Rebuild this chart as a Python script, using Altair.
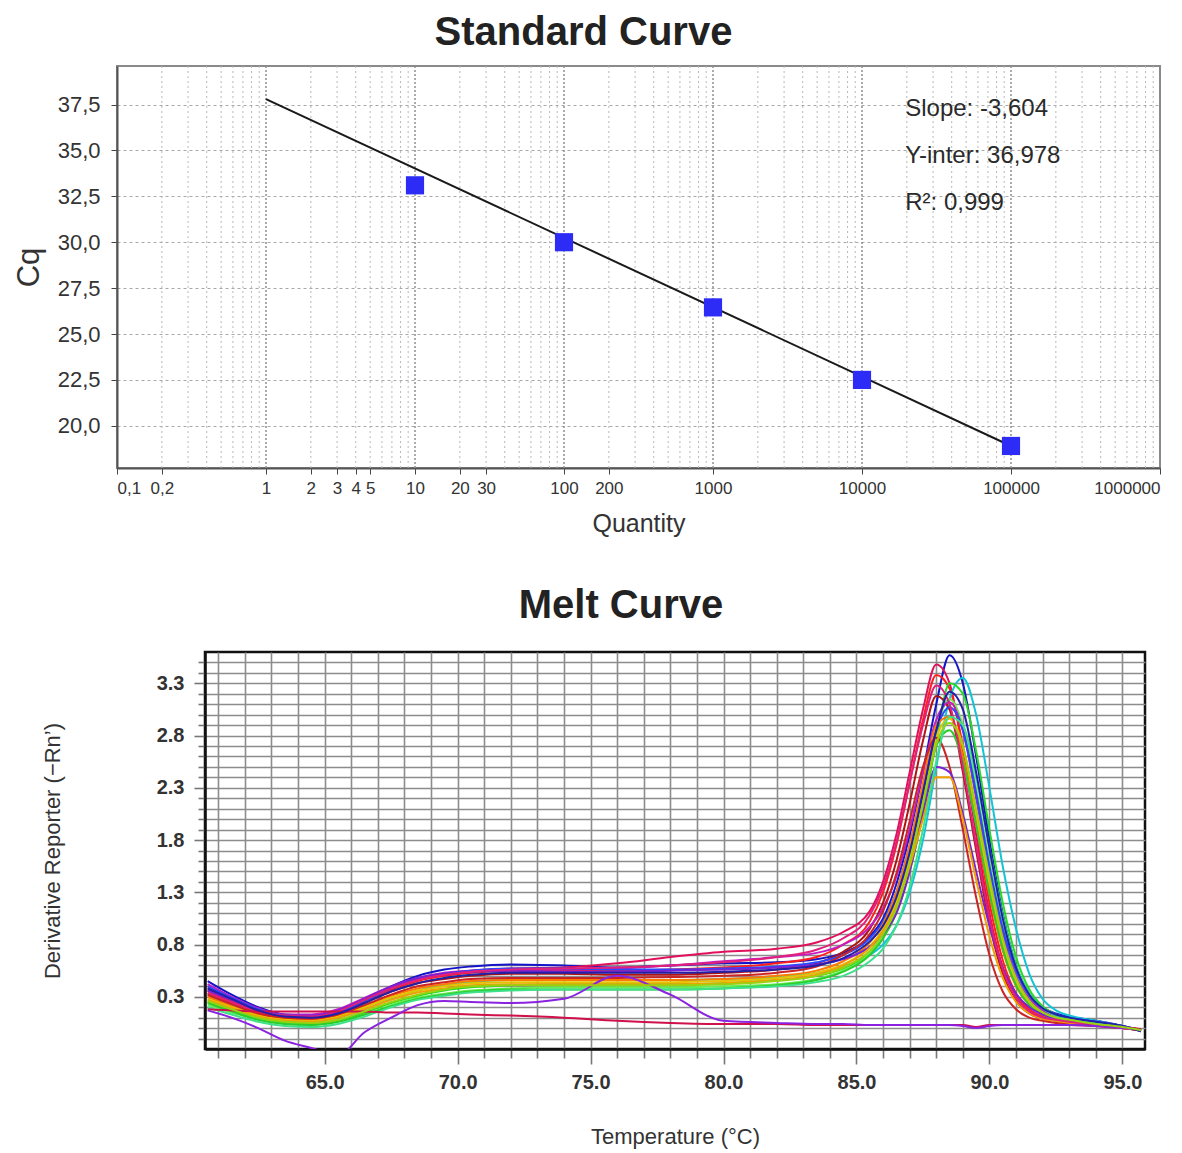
import altair as alt
import pandas as pd

# ---------------- Standard curve data ----------------
QUANTITY = [10, 100, 1000, 10000, 100000]
CQ = [33.1, 30.0, 26.45, 22.5, 18.9]
FIT_QUANTITY = [1, 100000]
FIT_CQ = [37.8, 18.9]
X_LABEL_VALUES = [0.1, 0.2, 1, 2, 3, 4, 5, 10, 20, 30, 100, 200, 1000, 10000, 100000, 1000000]
X_GRID_MINOR = [0.2, 0.3, 0.4, 0.5, 0.6, 0.7, 0.8, 0.9,
                2, 3, 4, 5, 6, 7, 8, 9,
                20, 30, 40, 50, 60, 70, 80, 90,
                200, 300, 400, 500, 600, 700, 800, 900,
                2000, 3000, 4000, 5000, 6000, 7000, 8000, 9000,
                20000, 30000, 40000, 50000, 60000, 70000, 80000, 90000,
                200000, 300000, 400000, 500000, 600000, 700000, 800000, 900000]
X_GRID_MAJOR = [1, 10, 100, 1000, 10000, 100000]
Y_TICKS = [20.0, 22.5, 25.0, 27.5, 30.0, 32.5, 35.0, 37.5]
ANNOT_TEXT = ["Slope: -3,604", "Y-inter: 36,978", "R²: 0,999"]
ANNOT_Q = [19500, 19500, 19500]
ANNOT_CQ = [37.25, 34.7, 32.15]

# ---------------- Melt curve data ----------------
TEMPS = [60.6, 61.5, 62.5, 63.5, 64.5, 65.5, 66.5, 67.5, 68.5, 69.5,
         70.5, 72, 74, 76, 78, 80, 82, 83.5, 84.5, 85.5,
         86, 86.5, 87, 87.5, 88, 88.5, 89, 89.5, 90, 90.5,
         91, 91.5, 92, 92.5, 93, 94, 95, 95.7]

S01 = [0.45, 0.32, 0.20, 0.13, 0.12, 0.16, 0.27, 0.40, 0.50, 0.56,
       0.59, 0.61, 0.60, 0.58, 0.60, 0.62, 0.63, 0.66, 0.72, 0.88,
       1.05, 1.38, 1.85, 2.45, 3.10, 3.57, 3.30, 2.60, 1.80, 1.10,
       0.60, 0.33, 0.20, 0.14, 0.11, 0.07, 0.02, -0.03]
S02 = [0.38, 0.28, 0.17, 0.12, 0.12, 0.17, 0.28, 0.39, 0.47, 0.52,
       0.55, 0.57, 0.58, 0.62, 0.68, 0.73, 0.76, 0.82, 0.92, 1.12,
       1.40, 1.85, 2.45, 3.05, 3.48, 3.30, 2.65, 1.85, 1.10, 0.58,
       0.30, 0.17, 0.11, 0.08, 0.06, 0.03, 0.00, -0.02]
S03 = [0.33, 0.24, 0.15, 0.11, 0.10, 0.15, 0.26, 0.37, 0.45, 0.50,
       0.53, 0.55, 0.55, 0.55, 0.56, 0.58, 0.62, 0.68, 0.80, 1.02,
       1.30, 1.75, 2.35, 2.95, 3.38, 3.25, 2.70, 1.95, 1.20, 0.65,
       0.33, 0.18, 0.11, 0.08, 0.06, 0.03, 0.00, -0.02]
S04 = [0.30, 0.22, 0.13, 0.08, 0.07, 0.10, 0.18, 0.28, 0.36, 0.41,
       0.44, 0.46, 0.46, 0.46, 0.46, 0.47, 0.49, 0.53, 0.59, 0.70,
       0.80, 0.98, 1.30, 1.80, 2.50, 3.15, 3.35, 3.00, 2.30, 1.55,
       0.95, 0.52, 0.28, 0.17, 0.12, 0.07, 0.02, -0.02]
S05 = [0.25, 0.17, 0.09, 0.05, 0.04, 0.07, 0.15, 0.24, 0.31, 0.36,
       0.39, 0.41, 0.42, 0.42, 0.42, 0.43, 0.46, 0.50, 0.57, 0.72,
       0.86, 1.10, 1.50, 2.05, 2.75, 3.30, 3.20, 2.65, 1.90, 1.20,
       0.68, 0.37, 0.21, 0.13, 0.09, 0.05, 0.01, -0.02]
S06 = [0.36, 0.26, 0.16, 0.11, 0.10, 0.14, 0.24, 0.35, 0.43, 0.47,
       0.50, 0.52, 0.52, 0.51, 0.51, 0.53, 0.56, 0.62, 0.73, 0.95,
       1.20, 1.60, 2.15, 2.75, 3.18, 3.05, 2.45, 1.70, 1.00, 0.52,
       0.26, 0.14, 0.09, 0.07, 0.05, 0.03, 0.00, -0.02]
S07 = [0.22, 0.15, 0.08, 0.04, 0.03, 0.06, 0.13, 0.22, 0.29, 0.33,
       0.36, 0.38, 0.39, 0.39, 0.39, 0.40, 0.42, 0.47, 0.55, 0.72,
       0.90, 1.18, 1.60, 2.20, 2.85, 3.15, 2.90, 2.30, 1.60, 0.98,
       0.55, 0.30, 0.17, 0.11, 0.08, 0.05, 0.01, -0.02]
S08 = [0.42, 0.30, 0.19, 0.13, 0.13, 0.18, 0.29, 0.40, 0.48, 0.53,
       0.55, 0.56, 0.56, 0.57, 0.60, 0.64, 0.68, 0.72, 0.80, 0.97,
       1.15, 1.45, 1.90, 2.45, 2.95, 3.12, 2.85, 2.20, 1.50, 0.90,
       0.50, 0.28, 0.17, 0.12, 0.09, 0.06, 0.02, -0.02]
S09 = [0.40, 0.29, 0.18, 0.12, 0.11, 0.15, 0.26, 0.38, 0.47, 0.52,
       0.55, 0.57, 0.57, 0.56, 0.56, 0.57, 0.59, 0.63, 0.70, 0.86,
       1.02, 1.30, 1.75, 2.30, 2.85, 3.07, 2.85, 2.25, 1.55, 0.95,
       0.55, 0.31, 0.19, 0.13, 0.10, 0.06, 0.02, -0.02]
S10 = [0.30, 0.21, 0.13, 0.09, 0.08, 0.12, 0.21, 0.31, 0.38, 0.42,
       0.45, 0.46, 0.46, 0.46, 0.46, 0.47, 0.50, 0.55, 0.64, 0.82,
       1.00, 1.30, 1.75, 2.35, 2.90, 2.98, 2.60, 1.95, 1.28, 0.74,
       0.40, 0.22, 0.13, 0.09, 0.07, 0.04, 0.01, -0.02]
S11 = [0.28, 0.20, 0.12, 0.08, 0.07, 0.11, 0.20, 0.29, 0.36, 0.40,
       0.43, 0.44, 0.44, 0.44, 0.44, 0.45, 0.48, 0.53, 0.61, 0.78,
       0.95, 1.22, 1.65, 2.20, 2.78, 2.96, 2.70, 2.05, 1.38, 0.80,
       0.44, 0.24, 0.14, 0.10, 0.07, 0.04, 0.01, -0.02]
S12 = [0.24, 0.16, 0.08, 0.04, 0.03, 0.06, 0.13, 0.21, 0.28, 0.32,
       0.35, 0.37, 0.37, 0.37, 0.37, 0.38, 0.41, 0.46, 0.54, 0.70,
       0.86, 1.12, 1.55, 2.10, 2.70, 2.85, 2.55, 1.95, 1.30, 0.76,
       0.41, 0.22, 0.13, 0.09, 0.07, 0.04, 0.01, -0.02]
S13 = [0.32, 0.23, 0.14, 0.10, 0.09, 0.13, 0.22, 0.32, 0.40, 0.44,
       0.47, 0.48, 0.48, 0.48, 0.49, 0.50, 0.53, 0.59, 0.70, 0.90,
       1.12, 1.48, 1.98, 2.50, 2.78, 2.50, 1.90, 1.25, 0.70, 0.35,
       0.18, 0.10, 0.07, 0.05, 0.04, 0.02, 0.00, -0.02]
S14 = [0.36, 0.27, 0.17, 0.12, 0.12, 0.17, 0.28, 0.40, 0.48, 0.52,
       0.54, 0.55, 0.54, 0.54, 0.55, 0.56, 0.58, 0.61, 0.66, 0.78,
       0.90, 1.10, 1.50, 2.05, 2.50, 2.45, 2.05, 1.50, 0.98, 0.58,
       0.33, 0.20, 0.13, 0.09, 0.07, 0.04, 0.01, -0.02]
S15 = [0.27, 0.19, 0.11, 0.07, 0.06, 0.10, 0.18, 0.27, 0.34, 0.38,
       0.41, 0.42, 0.42, 0.42, 0.42, 0.43, 0.46, 0.51, 0.60, 0.77,
       0.93, 1.17, 1.55, 2.00, 2.40, 2.40, 2.00, 1.42, 0.88, 0.48,
       0.25, 0.14, 0.09, 0.07, 0.05, 0.03, 0.00, -0.02]
S16 = [0.34, 0.25, 0.16, 0.12, 0.11, 0.16, 0.27, 0.38, 0.46, 0.51,
       0.54, 0.56, 0.57, 0.58, 0.60, 0.63, 0.68, 0.75, 0.86, 1.08,
       1.35, 1.78, 2.35, 2.90, 3.28, 3.10, 2.50, 1.75, 1.05, 0.56,
       0.29, 0.16, 0.10, 0.08, 0.06, 0.03, 0.00, -0.02]
S17 = [0.20, 0.13, 0.06, 0.02, 0.01, 0.04, 0.11, 0.20, 0.27, 0.31,
       0.34, 0.36, 0.37, 0.37, 0.37, 0.38, 0.40, 0.44, 0.50, 0.64,
       0.76, 0.98, 1.35, 1.90, 2.55, 2.98, 2.90, 2.40, 1.72, 1.08,
       0.60, 0.33, 0.19, 0.12, 0.09, 0.05, 0.01, -0.02]
S18 = [0.18, 0.17, 0.16, 0.16, 0.16, 0.16, 0.16, 0.15, 0.15, 0.14,
       0.13, 0.12, 0.10, 0.07, 0.05, 0.04, 0.04, 0.03, 0.03, 0.03,
       0.03, 0.03, 0.03, 0.03, 0.03, 0.03, 0.03, 0.01, 0.03, 0.03,
       0.03, 0.03, 0.03, 0.03, 0.03, 0.02, 0.01, -0.01]
S19 = [0.17, 0.10, 0.00, -0.12, -0.19, -0.26, -0.04, 0.10, 0.22, 0.26,
       0.25, 0.24, 0.28, 0.50, 0.32, 0.07, 0.05, 0.04, 0.04, 0.03,
       0.03, 0.03, 0.03, 0.03, 0.03, 0.03, 0.02, 0.00, 0.02, 0.03,
       0.03, 0.03, 0.03, 0.03, 0.03, 0.02, 0.00, -0.02]
S20 = [0.38, 0.28, 0.17, 0.11, 0.10, 0.14, 0.24, 0.35, 0.43, 0.48,
       0.51, 0.53, 0.53, 0.53, 0.53, 0.54, 0.56, 0.60, 0.67, 0.83,
       0.98, 1.25, 1.68, 2.25, 2.85, 3.22, 3.05, 2.45, 1.72, 1.05,
       0.58, 0.32, 0.19, 0.13, 0.10, 0.06, 0.02, -0.03]
S21 = [0.26, 0.18, 0.10, 0.06, 0.05, 0.08, 0.16, 0.25, 0.32, 0.37,
       0.40, 0.41, 0.41, 0.41, 0.41, 0.42, 0.45, 0.50, 0.58, 0.74,
       0.90, 1.15, 1.58, 2.15, 2.72, 2.92, 2.70, 2.10, 1.45, 0.86,
       0.48, 0.26, 0.15, 0.10, 0.08, 0.04, 0.01, -0.02]

SERIES_VALUES = [S01, S02, S03, S04, S05, S06, S07, S08, S09, S10, S11,
                 S12, S13, S14, S15, S16, S17, S18, S19, S20, S21]
SERIES_NAMES = ["W%02d" % (i + 1) for i in range(len(SERIES_VALUES))]
SERIES_COLORS = ["#1414c8", "#e0105a", "#ff1e1e", "#12c4d6", "#22dd22", "#b01414",
                 "#66ee55", "#c21ec2", "#2a48ff", "#ff7a00", "#e6c200", "#2ccc2c",
                 "#cc2424", "#7a22d4", "#f0a000", "#e0207a", "#3ee08a", "#d0104a",
                 "#8a22e0", "#2020a8", "#9ad010"]

MELT_X_TICKS = list(range(61, 96))
MELT_Y_TICKS = [round(-0.1 + 0.1 * i, 1) for i in range(37)]
MELT_Y_LABELS = [0.3, 0.8, 1.3, 1.8, 2.3, 2.8, 3.3]

FONT = "Liberation Sans"
NARROW = "Liberation Sans Narrow, Liberation Sans"

# ---------------- Standard curve chart ----------------
xs = alt.Scale(type="log", domain=[0.1, 1000000], nice=False)
ys = alt.Scale(domain=[17.7, 39.6], nice=False, zero=False)

x_axis = alt.Axis(values=X_LABEL_VALUES, labelExpr="replace(toString(datum.value), '.', ',')",
                  grid=False, tickSize=6, tickColor="#444", domainColor="#555", domainWidth=2,
                  labelFont=NARROW, labelFontSize=17, labelColor="#333", labelPadding=6,
                  labelOverlap=False, title="Quantity", titleFont=FONT, titleFontSize=25,
                  titleFontWeight="normal", titleColor="#333", titlePadding=15)
y_axis = alt.Axis(values=Y_TICKS, labelExpr="replace(format(datum.value, '.1f'), '.', ',')",
                  grid=True, gridDash=[3, 3], gridColor="#a8a8a8", gridWidth=1,
                  tickSize=6, tickColor="#444", domainColor="#555", domainWidth=2,
                  labelFont=FONT, labelFontSize=22, labelColor="#333", labelPadding=11,
                  title="Cq", titleFont=FONT, titleFontSize=31, titleFontWeight="normal",
                  titleColor="#333", titlePadding=12)

grid_minor = alt.Chart(pd.DataFrame({"q": X_GRID_MINOR})).mark_rule(
    color="#b8b8b8", strokeDash=[2, 3], strokeWidth=1
).encode(x=alt.X("q:Q", scale=xs, axis=x_axis))
grid_major = alt.Chart(pd.DataFrame({"q": X_GRID_MAJOR})).mark_rule(
    color="#909090", strokeDash=[2, 2], strokeWidth=1.5
).encode(x=alt.X("q:Q", scale=xs))

fit = alt.Chart(pd.DataFrame({"q": FIT_QUANTITY, "cq": FIT_CQ})).mark_line(
    color="#1a1a1a", strokeWidth=2
).encode(x=alt.X("q:Q", scale=xs), y=alt.Y("cq:Q", scale=ys, axis=y_axis))

pts = alt.Chart(pd.DataFrame({"q": QUANTITY, "cq": CQ})).mark_square(
    size=330, color="#2c2cf6", opacity=1
).encode(x=alt.X("q:Q", scale=xs), y=alt.Y("cq:Q", scale=ys))

annot = alt.Chart(pd.DataFrame({"q": ANNOT_Q, "cq": ANNOT_CQ, "t": ANNOT_TEXT})).mark_text(
    align="left", baseline="middle", font=NARROW, fontSize=24, color="#2a2a2a"
).encode(x=alt.X("q:Q", scale=xs), y=alt.Y("cq:Q", scale=ys), text="t:N")

top = alt.layer(grid_minor, grid_major, fit, pts, annot).properties(
    width=1043, height=402,
    title=alt.TitleParams("Standard Curve", font=FONT, fontSize=40, fontWeight="bold",
                          color="#222", anchor="middle", offset=12, dx=-55),
    view=alt.ViewBackground(stroke="#8a8a8a", strokeWidth=2, strokeOpacity=1),
)

# ---------------- Melt curve chart ----------------
rows = []
for name, vals in zip(SERIES_NAMES, SERIES_VALUES):
    assert len(vals) == len(TEMPS)
    for t, v in zip(TEMPS, vals):
        rows.append({"series": name, "temp": t, "val": v})
melt_df = pd.DataFrame(rows)

mx_axis = alt.Axis(values=MELT_X_TICKS,
                   labelExpr="datum.value % 5 === 0 ? format(datum.value, '.1f') : ''",
                   grid=True, gridColor="#8c8c8c", gridWidth=1.6,
                   tickSize={"condition": {"test": "datum.value % 5 === 0", "value": 15}, "value": 9},
                   tickColor="#777", tickWidth=1.6, domainColor="#111", domainWidth=2.5,
                   labelFont=FONT, labelFontSize=20, labelFontWeight="bold", labelColor="#333",
                   labelPadding=8, labelOverlap=False,
                   title="Temperature (°C)", titleFont=FONT, titleFontSize=22,
                   titleFontWeight="normal", titleColor="#333", titlePadding=34)
my_test = "indexof(" + str(MELT_Y_LABELS) + ", datum.value) >= 0"
my_axis = alt.Axis(values=MELT_Y_TICKS,
                   labelExpr=my_test + " ? format(datum.value, '.1f') : ''",
                   grid=True, gridColor="#8c8c8c", gridWidth=1.6,
                   tickSize={"condition": {"test": my_test, "value": 11}, "value": 7},
                   tickColor="#777", tickWidth=1.6, domainColor="#111", domainWidth=2.5,
                   labelFont=FONT, labelFontSize=20, labelFontWeight="bold", labelColor="#333",
                   labelPadding=10, labelOverlap=False,
                   title="Derivative Reporter (−Rn’)", titleFont=FONT, titleFontSize=22,
                   titleFontWeight="normal", titleColor="#333", titlePadding=92)

melt = alt.Chart(melt_df).mark_line(strokeWidth=2, clip=True, interpolate="monotone").encode(
    x=alt.X("temp:Q", scale=alt.Scale(domain=[60.5, 95.85], nice=False, zero=False), axis=mx_axis),
    y=alt.Y("val:Q", scale=alt.Scale(domain=[-0.2, 3.6], nice=False, zero=False), axis=my_axis),
    color=alt.Color("series:N", scale=alt.Scale(domain=SERIES_NAMES, range=SERIES_COLORS), legend=None),
    order=alt.Order("temp:Q"),
).properties(
    width=940, height=397,
    title=alt.TitleParams("Melt Curve", font=FONT, fontSize=40, fontWeight="bold",
                          color="#222", anchor="middle", offset=26, dx=-54),
    view=alt.ViewBackground(stroke="#111", strokeWidth=2.5, strokeOpacity=1),
)

spacer = alt.Chart(pd.DataFrame({"a": [0]})).mark_point(opacity=0).properties(
    width=88, height=397, view=alt.ViewBackground(strokeOpacity=0)
)

bottom = alt.hconcat(spacer, melt, spacing=0, bounds="flush")

chart = alt.vconcat(top, bottom, spacing=47).properties(
    padding={"left": 4, "top": 4, "right": 0, "bottom": 0}
).configure(background="white")

chart.save("out.html", embed_options={"renderer": "svg", "actions": False})
